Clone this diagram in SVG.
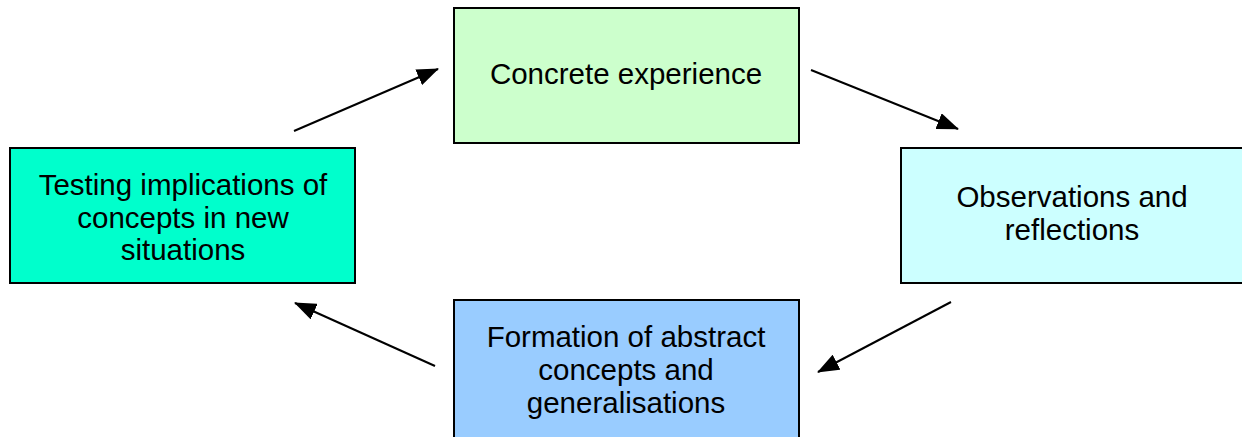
<svg xmlns="http://www.w3.org/2000/svg" width="1242" height="437" viewBox="0 0 1242 437">
<style>
.box{stroke:#000;stroke-width:2}
.t{font-family:"Liberation Sans",Arial,sans-serif;font-size:29.5px;fill:#000;text-anchor:middle}
.c{stroke:#000;stroke-width:2;fill:none;marker-end:url(#ah)}
</style>
<defs>
<marker id="ah" markerWidth="22" markerHeight="17" refX="21" refY="8.5" orient="auto" markerUnits="userSpaceOnUse" viewBox="0 0 22 17">
<path d="M0,0 L22,8.5 L0,17 Z" fill="#000"/>
</marker>
</defs>
<rect width="1242" height="437" fill="#fff"/>
<g id="concrete">
<rect class="box" x="454" y="8" width="345" height="135" fill="#CCFFCC"/>
<text class="t" x="626" y="84">Concrete experience</text>
</g>
<g id="observations">
<rect class="box" x="901" y="148" width="345" height="135" fill="#CCFFFF"/>
<text class="t" x="1072" y="207">Observations and</text>
<text class="t" x="1072" y="240">reflections</text>
</g>
<g id="formation">
<rect class="box" x="454" y="300" width="345" height="145" fill="#99CCFF"/>
<text class="t" x="626" y="347">Formation of abstract</text>
<text class="t" x="626" y="380">concepts and</text>
<text class="t" x="626" y="413">generalisations</text>
</g>
<g id="testing">
<rect class="box" x="10" y="148" width="345" height="135" fill="#00FFCC"/>
<text class="t" x="183" y="195">Testing implications of</text>
<text class="t" x="183" y="228">concepts in new</text>
<text class="t" x="183" y="260">situations</text>
</g>
<g id="connectors">
<line class="c" x1="294" y1="131" x2="438" y2="69"/>
<line class="c" x1="811" y1="70" x2="958" y2="129"/>
<line class="c" x1="951" y1="302" x2="818" y2="372"/>
<line class="c" x1="435" y1="366" x2="295" y2="303"/>
</g>
</svg>
